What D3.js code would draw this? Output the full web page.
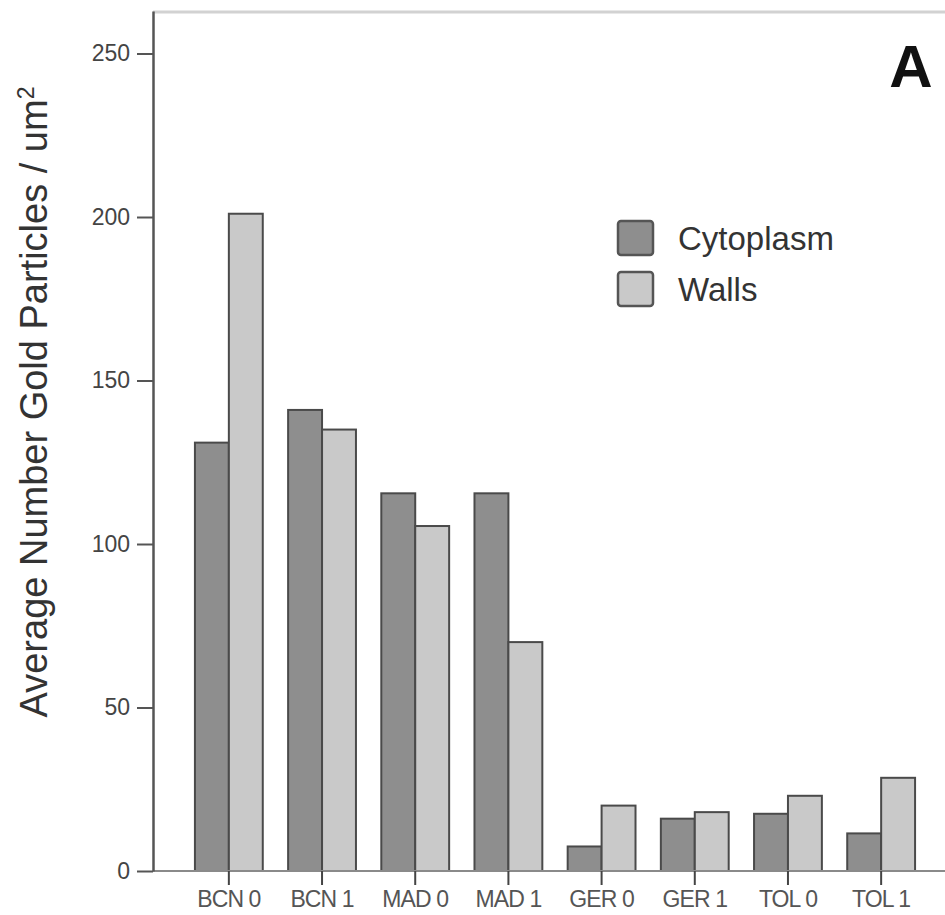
<!DOCTYPE html>
<html><head><meta charset="utf-8">
<script src="https://cdn.jsdelivr.net/npm/d3@7"></script>
<style>
body{margin:0;background:#fff}
svg{display:block}
text{font-family:"Liberation Sans",Arial,sans-serif}
</style>
</head><body>
<svg id="chart" width="945" height="915"></svg>
<script>
// Data
const categories = ["BCN 0","BCN 1","MAD 0","MAD 1","GER 0","GER 1","TOL 0","TOL 1"];
const seriesNames = ["Cytoplasm","Walls"];
const cytoplasm = [131, 141, 115.5, 115.5, 7.5, 16, 17.5, 11.5];
const walls = [201, 135, 105.5, 70, 20, 18, 23, 28.5];
const yTicks = [0, 50, 100, 150, 200, 250];
const yTitle = "Average Number Gold Particles / um";
const panelLabel = "A";

const fills = {Cytoplasm: "#8e8e8e", Walls: "#c9c9c9"};
const svg = d3.select("#chart");

const plotLeft = 153, plotRight = 945, plotBottom = 871, plotTop = 11;

const y = d3.scaleLinear().domain([0, 263]).range([plotBottom, plotTop]);
const x = d3.scaleBand().domain(categories).range([plotLeft, 957])
  .paddingInner(0.272).paddingOuter(0.45);
const xs = d3.scaleBand().domain(seriesNames).range([0, x.bandwidth()]);

const rows = categories.map((c, i) => ({cat: c, Cytoplasm: cytoplasm[i], Walls: walls[i]}));

// frame top line
svg.append("line").attr("x1", plotLeft).attr("x2", plotRight).attr("y1", 12).attr("y2", 12)
  .attr("stroke", "#d2d2d2").attr("stroke-width", 3);

// bars
const g = svg.append("g");
g.selectAll("g.cat").data(rows).join("g").attr("class", "cat")
  .attr("transform", d => `translate(${x(d.cat)},0)`)
  .selectAll("rect").data(d => seriesNames.map(s => ({s, v: d[s]})))
  .join("rect")
  .attr("x", d => xs(d.s))
  .attr("width", xs.bandwidth())
  .attr("y", d => y(d.v))
  .attr("height", d => y(0) - y(d.v))
  .attr("fill", d => fills[d.s])
  .attr("stroke", "#4a4a4a").attr("stroke-width", 2);

// x baseline and ticks
svg.append("line").attr("x1", plotLeft).attr("x2", plotRight).attr("y1", plotBottom).attr("y2", plotBottom)
  .attr("stroke", "#8a8a8a").attr("stroke-width", 2);
const xAxis = svg.append("g").attr("transform", `translate(0,${plotBottom})`)
  .call(d3.axisBottom(x).tickSize(14).tickSizeOuter(0).tickPadding(6));
xAxis.select(".domain").remove();
xAxis.selectAll(".tick line").attr("stroke", "#444").attr("stroke-width", 2);
xAxis.selectAll(".tick text").attr("font-size", 23).attr("fill", "#555")
  .attr("font-family", "'Liberation Sans', Arial, sans-serif")
  .attr("letter-spacing", -0.9);

// y axis
const yAxis = svg.append("g").attr("transform", `translate(${plotLeft},0)`)
  .call(d3.axisLeft(y).tickValues(yTicks).tickSize(16).tickSizeOuter(0).tickPadding(7));
yAxis.select(".domain").attr("stroke", "#555").attr("stroke-width", 2.5);
yAxis.selectAll(".tick line").attr("stroke", "#555").attr("stroke-width", 2);
yAxis.selectAll(".tick text").attr("font-size", 23).attr("fill", "#444")
  .attr("font-family", "'Liberation Sans', Arial, sans-serif");

// y title
const t = svg.append("text").attr("transform", "translate(47,402) rotate(-90)")
  .attr("text-anchor", "middle").attr("font-size", 38).attr("fill", "#333");
t.append("tspan").text(yTitle);
t.append("tspan").attr("baseline-shift", "super").attr("font-size", 23).text("2");

// legend
const leg = svg.append("g").attr("transform", "translate(618,221)");
seriesNames.forEach((s, i) => {
  const row = leg.append("g").attr("transform", `translate(0,${i * 51})`);
  row.append("rect").attr("width", 35).attr("height", 34).attr("rx", 3)
    .attr("fill", fills[s]).attr("stroke", "#555").attr("stroke-width", 2.5);
  row.append("text").attr("x", 60).attr("y", 29).attr("font-size", 33).attr("fill", "#333").text(s);
});

// panel label
svg.append("text").attr("x", 911).attr("y", 87).attr("text-anchor", "middle")
  .attr("font-size", 60).attr("font-weight", "bold").attr("fill", "#111").text(panelLabel);
</script>
</body></html>
